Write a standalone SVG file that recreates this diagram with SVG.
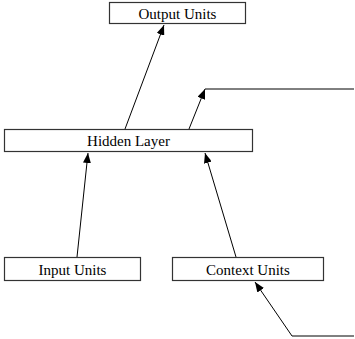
<svg xmlns="http://www.w3.org/2000/svg" width="355" height="339" viewBox="0 0 355 339">
  <style>
    .box { fill: #fff; stroke: #333; stroke-width: 1.2; }
    .label { font-family: "Liberation Serif", "Times New Roman", serif; font-size: 15px; fill: #000; text-anchor: middle; }
    .wire { fill: none; stroke: #000; stroke-width: 1; }
  </style>
  <defs>
    <marker id="arrow" viewBox="0 0 10 8" refX="10" refY="4" markerWidth="10" markerHeight="8" markerUnits="userSpaceOnUse" orient="auto">
      <path d="M0,0 L10,4 L0,8 Z" fill="#000"/>
    </marker>
  </defs>
  <rect width="355" height="339" fill="#fff"/>

  <g id="connectors">
    <line class="wire" x1="125" y1="129" x2="164" y2="25" marker-end="url(#arrow)"/>
    <line class="wire" x1="354" y1="89" x2="205" y2="89"/>
    <line class="wire" x1="189" y1="129" x2="205" y2="89" marker-end="url(#arrow)"/>
    <line class="wire" x1="77" y1="257" x2="88" y2="153" marker-end="url(#arrow)"/>
    <line class="wire" x1="236" y1="257" x2="205" y2="153" marker-end="url(#arrow)"/>
    <line class="wire" x1="354" y1="336" x2="292" y2="336"/>
    <line class="wire" x1="292" y1="336" x2="255" y2="282" marker-end="url(#arrow)"/>
  </g>

  <g id="output-units">
    <rect class="box" x="109.5" y="2.5" width="136" height="21"/>
    <text class="label" x="177.5" y="19">Output Units</text>
  </g>

  <g id="hidden-layer">
    <rect class="box" x="4.5" y="129.5" width="248" height="22"/>
    <text class="label" x="128.5" y="146">Hidden Layer</text>
  </g>

  <g id="input-units">
    <rect class="box" x="4.5" y="257.5" width="136" height="23"/>
    <text class="label" x="72.5" y="274.5">Input Units</text>
  </g>

  <g id="context-units">
    <rect class="box" x="172.5" y="257.5" width="151" height="23"/>
    <text class="label" x="248" y="274.5">Context Units</text>
  </g>
</svg>
